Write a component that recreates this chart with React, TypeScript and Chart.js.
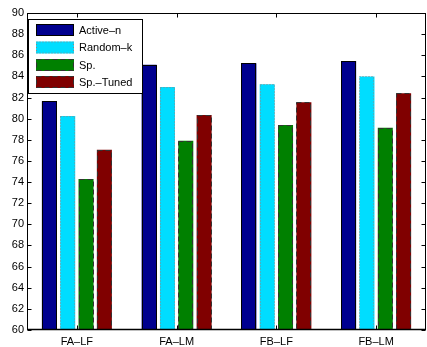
import React, { useEffect, useRef } from "react";
import { Chart, registerables } from "chart.js";

Chart.register(...registerables);

const categories = ["FA–LF", "FA–LM", "FB–LF", "FB–LM"];
const seriesNames = ["Active–n", "Random–k", "Sp.", "Sp.–Tuned"];
const activeN = [81.65, 85.1, 85.25, 85.45];
const randomK = [80.25, 83.0, 83.25, 84.0];
const sp = [74.3, 77.9, 79.4, 79.15];
const spTuned = [77.05, 80.35, 81.55, 82.4];
const yTicks = [60, 62, 64, 66, 68, 70, 72, 74, 76, 78, 80, 82, 84, 86, 88, 90];

const fills = ["#00008F", "#00DDFF", "#008000", "#800000"];
const edgeColors = ["#000000", "#888888", "#333333", "#333333"];
const edgeDash: number[][] = [[], [1, 2], [5, 3], [5, 3]];

const FONT = "11px 'Liberation Sans', Arial, Helvetica, sans-serif";

const boxPlugin = {
  id: "matlabBox",
  afterDatasetsDraw(chart: any) {
    const ctx = chart.ctx;
    const a = chart.chartArea;
    chart.data.datasets.forEach((ds: any, di: number) => {
      const meta = chart.getDatasetMeta(di);
      meta.data.forEach((el: any) => {
        const p = el.getProps(["x", "y", "base", "width"], true);
        ctx.save();
        ctx.strokeStyle = edgeColors[di];
        ctx.lineWidth = 1;
        ctx.setLineDash(edgeDash[di]);
        const l = Math.round(p.x - p.width / 2) + 0.5;
        const r = Math.round(p.x + p.width / 2) - 0.5;
        const t = Math.round(p.y) + 0.5;
        const b = Math.round(Math.min(p.base, a.bottom)) - 0.5;
        ctx.strokeRect(l, t, r - l, b - t);
        ctx.restore();
      });
    });
  },
  afterDraw(chart: any) {
    const ctx = chart.ctx;
    const a = chart.chartArea;
    const ys = chart.scales.y;
    const xs = chart.scales.x;
    ctx.save();
    ctx.strokeStyle = "#000";
    ctx.lineWidth = 1;
    ctx.setLineDash([]);
    const L = Math.round(a.left) + 0.5;
    const R = Math.round(a.right) - 0.5;
    const T = Math.round(a.top) + 0.5;
    const B = Math.round(a.bottom) - 0.5;
    ctx.beginPath();
    yTicks.forEach((v) => {
      const y = Math.round(ys.getPixelForValue(v)) + 0.5;
      ctx.moveTo(L, y);
      ctx.lineTo(L + 4, y);
      ctx.moveTo(R, y);
      ctx.lineTo(R - 4, y);
    });
    categories.forEach((_, i) => {
      const x = Math.round(xs.getPixelForValue(i)) + 0.5;
      ctx.moveTo(x, T);
      ctx.lineTo(x, T + 4);
      ctx.moveTo(x, B);
      ctx.lineTo(x, B - 4);
    });
    ctx.stroke();
    ctx.strokeRect(L, T, R - L, B - T);
    ctx.beginPath();
    ctx.lineWidth = 1.5;
    ctx.moveTo(L, B);
    ctx.lineTo(R, B);
    ctx.stroke();

    // legend inside axes
    const lx = L + 1, ly = 19.5, lw = 114, lh = 74;
    ctx.lineWidth = 1;
    ctx.fillStyle = "#fff";
    ctx.fillRect(lx, ly, lw, lh);
    ctx.strokeStyle = "#000";
    ctx.strokeRect(lx, ly, lw, lh);
    const rows = [30, 47.5, 65, 82];
    ctx.font = FONT;
    ctx.textBaseline = "middle";
    ctx.textAlign = "left";
    seriesNames.forEach((name, i) => {
      const cy = rows[i];
      ctx.fillStyle = fills[i];
      ctx.fillRect(36, cy - 6, 38, 12);
      ctx.strokeStyle = edgeColors[i];
      ctx.setLineDash(edgeDash[i]);
      ctx.strokeRect(36.5, cy - 5.5, 37, 11);
      ctx.setLineDash([]);
      ctx.fillStyle = "#000";
      ctx.fillText(name, 79, cy + 0.5);
    });
    ctx.restore();
  },
};

export default function App() {
  const ref = useRef<HTMLCanvasElement>(null);
  useEffect(() => {
    document.body.style.margin = "0";
    const canvas = ref.current!;
    const series = [activeN, randomK, sp, spTuned];
    const chart = new Chart(canvas, {
      type: "bar",
      data: {
        labels: categories,
        datasets: series.map((d, i) => ({
          label: seriesNames[i],
          data: d,
          backgroundColor: fills[i],
          borderWidth: 0,
          categoryPercentage: 0.735,
          barPercentage: 0.82,
        })),
      },
      options: {
        responsive: false,
        animation: false,
        devicePixelRatio: 1,
        layout: { padding: { top: 13, right: 1, left: 0, bottom: 0 } },
        plugins: { legend: { display: false }, tooltip: { enabled: false } },
        scales: {
          x: {
            grid: { display: false, drawTicks: false },
            border: { display: false },
            ticks: {
              color: "#000",
              font: { family: "'Liberation Sans', Arial, sans-serif", size: 11 },
              padding: 5,
            },
            afterFit: (s: any) => {
              s.height = 17;
            },
          },
          y: {
            min: 60,
            max: 90,
            grid: { display: false, drawTicks: false },
            border: { display: false },
            afterBuildTicks: (s: any) => {
              s.ticks = yTicks.map((v) => ({ value: v }));
            },
            ticks: {
              color: "#000",
              font: { family: "'Liberation Sans', Arial, sans-serif", size: 11 },
              padding: 3,
              autoSkip: false,
            },
            afterFit: (s: any) => {
              s.width = 27;
            },
          },
        },
      },
      plugins: [boxPlugin],
    });
    return () => chart.destroy();
  }, []);
  return <canvas ref={ref} width={427} height={347} style={{ display: "block" }} />;
}
